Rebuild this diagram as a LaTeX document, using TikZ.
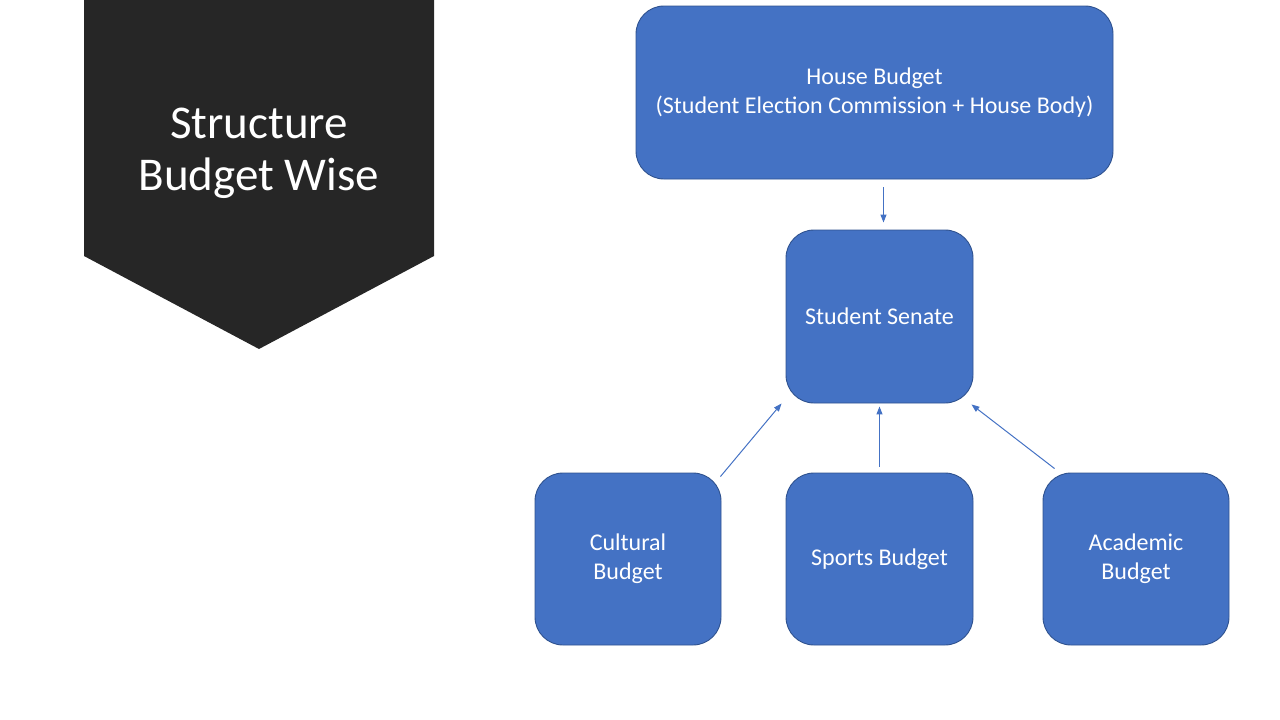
\documentclass[tikz,border=0pt]{standalone}
\usepackage{fontspec}
\setmainfont{Carlito}
\usetikzlibrary{positioning, arrows.meta}

\definecolor{boxblue}{HTML}{4472C4}
\definecolor{boxline}{HTML}{2F528F}
\definecolor{banner}{HTML}{262626}

\tikzset{
  budget/.style={draw=boxline, line width=0.9pt, fill=boxblue, text=white,
    rounded corners=28pt, align=center, inner sep=0pt,
    font=\fontsize{24}{29}\selectfont},
  feed/.style={draw=boxblue, line width=1pt, -{Triangle[length=8pt,width=6pt]}}
}

\begin{document}
\begin{tikzpicture}[x=1pt, y=-1pt]

 \useasboundingbox (0,0) rectangle (1280,720);

 % title banner
 \fill[banner] (84,0) -- (434,0) -- (434,256) -- (259,349) -- (84,256) -- cycle;
 \node[text=white, align=center, font=\fontsize{47}{52}\selectfont] (title) at (259,153)
   {Structure\\Budget Wise};

 % budget boxes
 \node[budget, minimum width=477pt, minimum height=173pt] (house) at (874.5,92.5)
   {House Budget\\(Student Election Commission + House Body)};
 \node[budget, minimum width=187pt, minimum height=173pt] (senate) at (879.5,316.5)
   {Student Senate};
 \node[budget, minimum width=186pt, minimum height=172pt] (cultural) at (628,559)
   {Cultural\\Budget};
 \node[budget, minimum width=187pt, minimum height=172pt] (sports) at (879.5,559)
   {Sports Budget};
 \node[budget, minimum width=186pt, minimum height=172pt] (academic) at (1136,559)
   {Academic\\Budget};

 % connectors
 \draw[feed, shorten <=8pt, shorten >=7pt] ([xshift=9pt]house.south) -- ([xshift=4pt]senate.north);
 \draw[feed] ([shift={(-1,4)}]cultural.north east) -- ([xshift=-4pt]senate.south west);
 \draw[feed, shorten <=6pt, shorten >=3pt] (sports.north) -- (senate.south);
 \draw[feed] ([shift={(12,-4)}]academic.north west) -- ([shift={(-2,1)}]senate.south east);

\end{tikzpicture}
\end{document}
